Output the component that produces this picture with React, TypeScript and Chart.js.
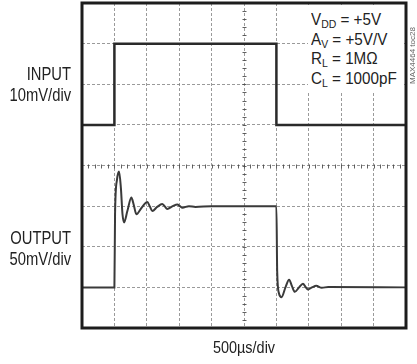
import React, { useEffect, useRef } from "react";
import { Chart, registerables } from "chart.js";

Chart.register(...registerables);

// time in microseconds (500 µs/div, 10 divisions); level in screen divisions (8 divisions, centre = 0)
const xMinUs = 0;
const xMaxUs = 5000;
const xStepUs = 500;
const yMinDiv = -4;
const yMaxDiv = 4;

const inputTime = [0, 500, 500, 3000, 3000, 5000];
const inputLevel = [1, 1, 3, 3, 1, 1];

const outputTime = [
  0, 500, 510, 540, 572, 600, 625, 649, 700, 762, 800, 839, 920, 1008, 1045, 1085,
  1160, 1238, 1275, 1315, 1400, 1473, 1510, 1550, 1650, 1750, 2000, 3000,
  3012, 3040, 3079, 3140, 3196, 3240, 3283, 3350, 3410, 3450, 3487, 3550, 3615,
  3700, 3800, 5000,
];
const outputLevel = [
  -3, -3, -1.2, -0.35, -0.15, -0.55, -1.2, -1.4, -1.12, -0.79, -0.98, -1.2, -1.04, -0.9, -1.0, -1.12,
  -1.02, -0.95, -1.0, -1.07, -1.0, -0.96, -1.0, -1.04, -1.0, -1.02, -1.0, -1.0,
  -2.6, -3.15, -3.24, -3.0, -2.81, -2.97, -3.11, -3.0, -2.91, -2.99, -3.05, -3.0, -2.96,
  -3.01, -2.99, -3.0,
];

const FONT = '"Liberation Sans", Arial, sans-serif';

const scopePlugin = {
  id: "scope",
  beforeDatasetsDraw(chart: any) {
    const { ctx, scales } = chart;
    const x = scales.x;
    const y = scales.y;
    const cy = Math.round(y.getPixelForValue(0)) + 0.5;
    const cx = Math.round(x.getPixelForValue((xMinUs + xMaxUs) / 2)) + 0.5;
    ctx.save();
    ctx.strokeStyle = "rgba(70,70,70,0.85)";
    ctx.lineWidth = 1;
    ctx.beginPath();
    for (let i = 0; i <= 50; i++) {
      const px = Math.round(x.getPixelForValue(i * 100)) + 0.5;
      ctx.moveTo(px, cy - 2);
      ctx.lineTo(px, cy + 2);
    }
    for (let i = -20; i <= 20; i++) {
      const py = Math.round(y.getPixelForValue(i / 5)) + 0.5;
      ctx.moveTo(cx - 2, py);
      ctx.lineTo(cx + 2, py);
    }
    ctx.stroke();
    ctx.restore();
  },
  afterDatasetsDraw(chart: any) {
    const { ctx, chartArea } = chart;
    ctx.save();
    ctx.strokeStyle = "#1c1c1c";
    ctx.lineWidth = 3;
    ctx.strokeRect(
      chartArea.left,
      chartArea.top,
      chartArea.right - chartArea.left,
      chartArea.bottom - chartArea.top
    );
    ctx.restore();
  },
};

export default function App() {
  const ref = useRef<HTMLCanvasElement | null>(null);

  useEffect(() => {
    if (!ref.current) return;
    const chart = new Chart(ref.current, {
      type: "line",
      data: {
        datasets: [
          {
            label: "INPUT",
            data: inputTime.map((t, i) => ({ x: t, y: inputLevel[i] })),
            borderColor: "#2a2a2a",
            borderWidth: 2.5,
            pointRadius: 0,
            tension: 0,
          },
          {
            label: "OUTPUT",
            data: outputTime.map((t, i) => ({ x: t, y: outputLevel[i] })),
            borderColor: "#3a3a3a",
            borderWidth: 2,
            pointRadius: 0,
            cubicInterpolationMode: "monotone",
          },
        ],
      },
      options: {
        animation: false,
        responsive: false,
        devicePixelRatio: 1,
        layout: { padding: { left: 82, top: 3, right: 11, bottom: 36 } },
        plugins: { legend: { display: false }, tooltip: { enabled: false } },
        scales: {
          x: {
            type: "linear",
            min: xMinUs,
            max: xMaxUs,
            ticks: { display: false, stepSize: xStepUs },
            grid: { color: "rgba(120,120,120,0.75)", lineWidth: 1, drawTicks: false },
            border: { display: false, dash: [3, 2] },
          },
          y: {
            type: "linear",
            min: yMinDiv,
            max: yMaxDiv,
            ticks: { display: false, stepSize: 1 },
            grid: { color: "rgba(120,120,120,0.75)", lineWidth: 1, drawTicks: false },
            border: { display: false, dash: [3, 2] },
          },
        },
      },
      plugins: [scopePlugin],
    } as any);
    return () => chart.destroy();
  }, []);

  const label: React.CSSProperties = {
    position: "absolute",
    fontFamily: FONT,
    fontSize: 18,
    lineHeight: "21px",
    color: "#222",
    textAlign: "right",
    whiteSpace: "nowrap",
    transform: "scaleX(0.82)",
    transformOrigin: "right top",
  };
  const ann: React.CSSProperties = {
    fontFamily: FONT,
    fontSize: 16,
    lineHeight: "19.5px",
    color: "#222",
    whiteSpace: "nowrap",
    transform: "scaleX(0.95)",
    transformOrigin: "left top",
  };
  const sub: React.CSSProperties = { fontSize: 11, verticalAlign: "-3px", lineHeight: 0 };

  return (
    <div style={{ position: "absolute", left: 0, top: 0, width: 417, height: 364, background: "#fff" }}>
      <canvas ref={ref} width={417} height={364} style={{ position: "absolute", left: 0, top: 0 }} />
      <div style={{ ...label, right: 417 - 71, top: 64 }}>
        INPUT
        <br />
        10mV/div
      </div>
      <div style={{ ...label, right: 417 - 71, top: 228 }}>
        OUTPUT
        <br />
        50mV/div
      </div>
      <div
        style={{
          position: "absolute",
          left: 308,
          top: 5,
          width: 96,
          height: 87,
          background: "#fff",
        }}
      >
        <div style={{ position: "absolute", left: 3, top: 5, ...ann }}>
          <div>
            V<span style={sub}>DD</span> = +5V
          </div>
          <div>
            A<span style={sub}>V</span> = +5V/V
          </div>
          <div>
            R<span style={sub}>L</span> = 1MΩ
          </div>
          <div>
            C<span style={sub}>L</span> = 1000pF
          </div>
        </div>
      </div>
      <div
        style={{
          position: "absolute",
          left: 244 - 60,
          width: 120,
          top: 339,
          textAlign: "center",
          fontFamily: FONT,
          fontSize: 17,
          lineHeight: "17px",
          color: "#222",
          transform: "scaleX(0.85)",
          transformOrigin: "center top",
        }}
      >
        500µs/div
      </div>
      <div
        style={{
          position: "absolute",
          left: 409,
          top: 4,
          width: 8,
          height: 80,
          overflow: "visible",
        }}
      >
        <div
          style={{
            position: "absolute",
            left: 0,
            top: 80,
            transformOrigin: "0 0",
            transform: "rotate(-90deg)",
            fontFamily: FONT,
            fontSize: 8,
            lineHeight: "8px",
            color: "#666",
            whiteSpace: "nowrap",
          }}
        >
          MAX4464 toc28
        </div>
      </div>
    </div>
  );
}
